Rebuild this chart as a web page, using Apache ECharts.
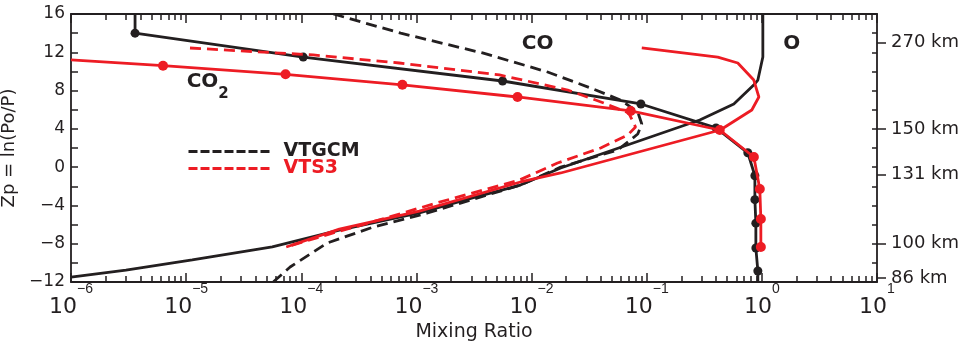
<!DOCTYPE html>
<html><head><meta charset="utf-8">
<script src="https://cdn.jsdelivr.net/npm/echarts@6/dist/echarts.min.js"></script>
<style>html,body{margin:0;padding:0;background:#fff}#c{width:960px;height:344px}</style>
</head><body><div id="c"></div>
<script>
const BLACK = '#231f20', RED = '#ed1c24';
const FONT = 'DejaVu Sans';

// ---- tick labels ----
const xMajorTicks = [1e-6, 1e-5, 1e-4, 1e-3, 1e-2, 1e-1, 1, 10];
const yTickLabels = [-12, -8, -4, 0, 4, 8, 12, 16];
const kmTickZp = [13, 4, -0.8, -8, -11.6];
const kmTickLabels = ['270 km', '150 km', '131 km', '100 km', '86 km'];

// ---- CO2 (solid with markers) ----
const co2VtgcmX  = [3.6e-6, 3.6e-6, 1.04e-4, 5.6e-3, 8.9e-2, 0.40, 0.755, 0.87, 0.87, 0.887, 0.887, 0.923, 0.923];
const co2VtgcmZp = [16, 14.0, 11.5, 9.0, 6.6, 4.1, 1.5, -0.9, -3.4, -5.85, -8.45, -10.85, -12];
const co2Vts3X   = [1e-6, 6.3e-6, 7.3e-5, 7.55e-4, 7.55e-3, 7.26e-2, 0.431, 0.852, 0.96, 0.98, 0.98];
const co2Vts3Zp  = [11.2, 10.6, 9.7, 8.6, 7.33, 5.87, 3.88, 1.06, -2.28, -5.42, -8.34];

// ---- CO (dashed) ----
const coVtgcmX  = [1.9e-4, 7.3e-4, 3.75e-3, 0.01377, 0.0326, 0.0594, 0.0836, 0.0906, 0.0836, 0.056, 0.0179, 8.0e-3, 1.25e-3, 4.23e-4, 1.68e-4, 8.0e-5, 5.7e-5];
const coVtgcmZp = [16, 14.0, 11.93, 9.94, 8.27, 7.01, 5.76, 4.51, 3.46, 1.79, 0.0, -1.87, -4.79, -6.25, -7.93, -10.43, -12];
const coVts3X   = [1.08e-5, 1.27e-4, 7.1e-4, 5.27e-3, 0.0206, 0.0423, 0.0697, 0.080, 0.0684, 0.0398, 0.0168, 7.87e-3, 1.49e-3, 4.14e-4, 1.75e-4, 7.4e-5];
const coVts3Zp  = [12.45, 11.72, 10.88, 9.63, 8.06, 6.70, 5.66, 4.19, 3.36, 2.0, 0.43, -1.34, -3.75, -5.73, -6.99, -8.34];

// ---- O (solid) ----
const oVtgcmX  = [1e-6, 3.0e-6, 1.13e-5, 5.6e-5, 2.14e-4, 1.06e-3, 3.07e-3, 8.0e-3, 0.0179, 0.289, 0.571, 0.85, 0.923, 1.02, 1.02];
const oVtgcmZp = [-11.48, -10.75, -9.70, -8.34, -6.57, -4.79, -3.22, -1.87, -0.09, 4.92, 6.6, 8.58, 9.1, 11.5, 16];
const oVts3X   = [7.4e-5, 2.14e-4, 1.06e-3, 8.0e-3, 0.0179, 0.435, 0.818, 0.942, 0.851, 0.618, 0.414, 0.0906];
const oVts3Zp  = [-8.34, -6.47, -4.6, -1.55, -0.61, 3.88, 5.97, 7.33, 9.1, 10.88, 11.5, 12.45];

// ---- annotations ----
const annotX = [0.01127, 1.82, 1e-5];
const annotZp = [12.87, 12.87, 8.95];
const annotText = ['CO', 'O', 'CO2'];

function pairs(xs, ys) { return xs.map((x, i) => [x, ys[i]]); }
function withEndsBare(pts, bareFirst, bareLast) {
  return pts.map((p, i) => ((bareFirst && i === 0) || (bareLast && i === pts.length - 1)) ? {value: p, symbol: 'none'} : p);
}
const xMinorTicks = [];
for (let e = -6; e <= 0; e++) for (let m = 2; m <= 9; m++) xMinorTicks.push(m * Math.pow(10, e));

function supLabel(v) {
  const e = Math.round(Math.log10(v));
  return '{b|10}{s|' + (e < 0 ? '\u2212' + (-e) : String(e)) + '}';
}
const axisLineStyle = {color: BLACK, width: 1.8};
const tickLineStyle = {color: BLACK, width: 1.5};

function logX(extra) {
  return Object.assign({
    type: 'log', logBase: 10, min: 1e-6, max: 10, gridIndex: 0,
    splitLine: {show: false}, minorTick: {show: false}, minorSplitLine: {show: false}
  }, extra);
}

const option = {
  animation: false,
  backgroundColor: '#fff',
  textStyle: {fontFamily: FONT},
  grid: {left: 71, right: 83, top: 14, bottom: 62, containLabel: false, outerBoundsMode: 'none'},
  legend: {
    left: 187, top: 142, orient: 'vertical', itemWidth: 83, itemHeight: 18, itemGap: -2, padding: 0,
    selectedMode: false,
    lineStyle: {width: 3, type: [9, 3]},
    itemStyle: {color: 'transparent', borderColor: 'transparent', borderWidth: 0, opacity: 0},
    textStyle: {fontFamily: FONT, fontWeight: 'bold', fontSize: 19, lineHeight: 18, padding: [0, 0, 0, 7]},
    data: [
      {name: 'VTGCM', textStyle: {color: BLACK}},
      {name: 'VTS3', textStyle: {color: RED}}
    ]
  },
  xAxis: [
    logX({
      position: 'bottom',
      axisLine: {show: true, onZero: false, lineStyle: axisLineStyle},
      axisTick: {show: true, inside: true, length: 9, lineStyle: tickLineStyle, customValues: xMajorTicks},
      axisLabel: {
        show: true, margin: 0, customValues: xMajorTicks, formatter: supLabel,
        rich: {
          b: {fontFamily: FONT, fontSize: 22, lineHeight: 50, color: BLACK},
          s: {fontFamily: 'Liberation Sans', fontSize: 14, lineHeight: 14, color: BLACK, verticalAlign: 'top'}
        }
      },
      name: 'Mixing Ratio', nameLocation: 'middle', nameGap: 37,
      nameTextStyle: {fontFamily: FONT, fontSize: 19, color: BLACK}
    }),
    logX({
      position: 'bottom',
      axisLine: {show: false, onZero: false},
      axisTick: {show: true, inside: true, length: 6, lineStyle: tickLineStyle, customValues: xMinorTicks},
      axisLabel: {show: false}
    }),
    logX({
      position: 'top',
      axisLine: {show: true, onZero: false, lineStyle: axisLineStyle},
      axisTick: {show: true, inside: true, length: 9, lineStyle: tickLineStyle, customValues: xMajorTicks},
      axisLabel: {show: false}
    }),
    logX({
      position: 'top',
      axisLine: {show: false, onZero: false},
      axisTick: {show: true, inside: true, length: 6, lineStyle: tickLineStyle, customValues: xMinorTicks},
      axisLabel: {show: false}
    })
  ],
  yAxis: [
    {
      type: 'value', position: 'left', min: -12, max: 16, interval: 2,
      splitLine: {show: false},
      axisLine: {show: true, onZero: false, lineStyle: axisLineStyle},
      axisTick: {show: true, inside: true, length: 7, lineStyle: tickLineStyle},
      axisLabel: {
        show: true, margin: 6, customValues: yTickLabels,
        fontFamily: FONT, fontSize: 17, color: BLACK,
        formatter: v => (v < 0 ? '\u2212' + (-v) : String(v))
      },
      name: 'Zp = ln(Po/P)', nameLocation: 'middle', nameGap: 47,
      nameTextStyle: {fontFamily: FONT, fontSize: 18, color: BLACK}
    },
    {
      type: 'value', position: 'right', min: -12, max: 16, interval: 2,
      splitLine: {show: false},
      axisLine: {show: true, onZero: false, lineStyle: axisLineStyle},
      axisTick: {show: true, inside: true, length: 5, lineStyle: tickLineStyle},
      axisLabel: {show: false}
    },
    {
      type: 'value', position: 'right', min: -12, max: 16,
      splitLine: {show: false},
      axisLine: {show: false, onZero: false},
      axisTick: {show: true, inside: false, length: 9, lineStyle: tickLineStyle, customValues: kmTickZp},
      axisLabel: {
        show: true, margin: 14, customValues: kmTickZp,
        fontFamily: FONT, fontSize: 18, color: BLACK,
        formatter: v => { const i = kmTickZp.findIndex(k => Math.abs(k - v) < 1e-6); return i >= 0 ? kmTickLabels[i] : ''; }
      }
    }
  ],
  series: [
    {
      name: 'VTGCM', type: 'line', xAxisIndex: 0, yAxisIndex: 0, symbol: 'none',
      lineStyle: {color: BLACK, width: 2.8, type: [11, 6]}, itemStyle: {color: BLACK},
      data: pairs(coVtgcmX, coVtgcmZp), z: 2
    },
    {
      name: 'VTGCM O', type: 'line', xAxisIndex: 0, yAxisIndex: 0, symbol: 'none',
      lineStyle: {color: BLACK, width: 2.8}, itemStyle: {color: BLACK},
      data: pairs(oVtgcmX, oVtgcmZp), z: 2
    },
    {
      name: 'VTGCM CO2', type: 'line', xAxisIndex: 0, yAxisIndex: 0, symbol: 'circle', symbolSize: 9, showSymbol: true,
      lineStyle: {color: BLACK, width: 2.8}, itemStyle: {color: BLACK},
      data: withEndsBare(pairs(co2VtgcmX, co2VtgcmZp), true, true), z: 3
    },
    {
      name: 'VTS3', type: 'line', xAxisIndex: 0, yAxisIndex: 0, symbol: 'none',
      lineStyle: {color: RED, width: 2.8, type: [11, 6]}, itemStyle: {color: RED},
      data: pairs(coVts3X, coVts3Zp), z: 4
    },
    {
      name: 'VTS3 O', type: 'line', xAxisIndex: 0, yAxisIndex: 0, symbol: 'none',
      lineStyle: {color: RED, width: 2.8}, itemStyle: {color: RED},
      data: pairs(oVts3X, oVts3Zp), z: 4
    },
    {
      name: 'VTS3 CO2', type: 'line', xAxisIndex: 0, yAxisIndex: 0, symbol: 'circle', symbolSize: 10, showSymbol: true,
      lineStyle: {color: RED, width: 2.8}, itemStyle: {color: RED},
      data: withEndsBare(pairs(co2Vts3X, co2Vts3Zp), true, false), z: 5
    },
    {
      name: 'labels', type: 'scatter', xAxisIndex: 0, yAxisIndex: 0, symbolSize: 1,
      itemStyle: {color: 'transparent', opacity: 1}, silent: true, z: 6,
      data: annotText.map((t, i) => ({
        value: [annotX[i], annotZp[i]],
        label: t === 'CO2' ? {
          show: true, position: 'right', distance: 0, opacity: 1,
          formatter: '{m|CO}{sub|2}',
          rich: {
            m: {fontFamily: FONT, fontWeight: 'bold', fontSize: 20, lineHeight: 20, color: BLACK},
            sub: {fontFamily: FONT, fontWeight: 'bold', fontSize: 15, lineHeight: 15, color: BLACK, padding: [26, 0, 0, 0]}
          }
        } : {
          show: true, position: 'inside', formatter: t, opacity: 1,
          fontFamily: FONT, fontWeight: 'bold', fontSize: 20, color: BLACK
        }
      }))
    }
  ]
};
const chart = echarts.init(document.getElementById('c'), null, {renderer: 'canvas'});
chart.setOption(option);
</script></body></html>
